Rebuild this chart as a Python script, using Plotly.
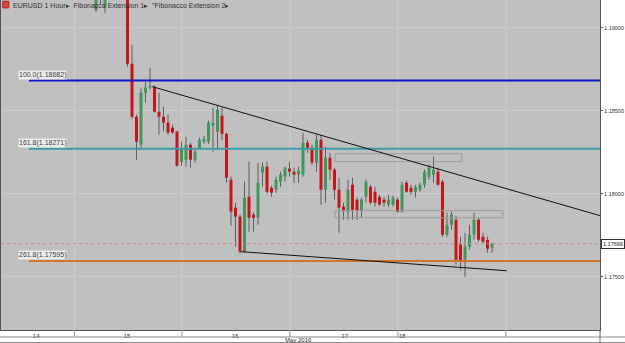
import plotly.graph_objects as go

# ---------------- data ----------------
bar_index = list(range(-7, 82))
open_ = [1.19108, 1.19259, 1.19121, 1.19241, 1.19349, 1.19380, 1.19440,
         1.19349, 1.18783, 1.18464, 1.18295, 1.18608, 1.18639, 1.18645, 1.18494, 1.18464, 1.18428,
         1.18398, 1.18374, 1.18193, 1.18205, 1.18295, 1.18205, 1.18277, 1.18313, 1.18313, 1.18410,
         1.18374, 1.18470, 1.18361, 1.18084, 1.17916, 1.17862, 1.17651, 1.17982, 1.17874, 1.17855,
         1.18127, 1.18163, 1.18036, 1.18024, 1.18072, 1.18103, 1.18151, 1.18133, 1.18115, 1.18115,
         1.18307, 1.18277, 1.18187, 1.18325, 1.18024, 1.18217, 1.18145, 1.18024, 1.17922, 1.17892,
         1.18054, 1.17964, 1.17898, 1.17982, 1.18042, 1.18012, 1.17982, 1.17964, 1.17934, 1.17934,
         1.17964, 1.17892, 1.18066, 1.18036, 1.18012, 1.18024, 1.18054, 1.18103, 1.18115, 1.18133,
         1.18072, 1.17753, 1.17813, 1.17843, 1.17693, 1.17603, 1.17681, 1.17753, 1.17843, 1.17741,
         1.17723, 1.17675]
high = [1.19289, 1.19319, 1.19349, 1.19410, 1.19470, 1.19500, 1.19530,
        1.19410, 1.18898, 1.18476, 1.18639, 1.18675, 1.18759, 1.18651, 1.18608, 1.18524, 1.18476,
        1.18416, 1.18380, 1.18313, 1.18343, 1.18307, 1.18265, 1.18337, 1.18349, 1.18440, 1.18518,
        1.18536, 1.18518, 1.18368, 1.18103, 1.17946, 1.17874, 1.18072, 1.18193, 1.17886, 1.18187,
        1.18187, 1.18193, 1.18048, 1.18103, 1.18133, 1.18163, 1.18193, 1.18157, 1.18163, 1.18368,
        1.18325, 1.18295, 1.18355, 1.18355, 1.18283, 1.18247, 1.18157, 1.18096, 1.17946, 1.18084,
        1.18096, 1.17976, 1.17976, 1.18084, 1.18054, 1.18042, 1.17994, 1.17982, 1.17994, 1.17988,
        1.17976, 1.18072, 1.18078, 1.18054, 1.18054, 1.18066, 1.18145, 1.18175, 1.18223, 1.18157,
        1.18084, 1.17886, 1.17892, 1.17868, 1.17741, 1.17765, 1.17813, 1.17886, 1.17855, 1.17765,
        1.17741, 1.17705]
low = [1.19096, 1.19139, 1.19090, 1.19199, 1.19289, 1.19319, 1.19319,
       1.18765, 1.18452, 1.18205, 1.18277, 1.18548, 1.18627, 1.18488, 1.18355, 1.18374, 1.18355,
       1.18361, 1.18163, 1.18169, 1.18163, 1.18157, 1.18187, 1.18265, 1.18301, 1.18301, 1.18253,
       1.18265, 1.18325, 1.18066, 1.17807, 1.17681, 1.17639, 1.17645, 1.17771, 1.17771, 1.17813,
       1.18042, 1.18000, 1.17982, 1.18006, 1.18042, 1.18072, 1.18103, 1.18066, 1.18066, 1.18103,
       1.18247, 1.18175, 1.18133, 1.17934, 1.17946, 1.18084, 1.17964, 1.17765, 1.17843, 1.17843,
       1.17843, 1.17843, 1.17855, 1.17946, 1.17934, 1.17922, 1.17928, 1.17922, 1.17922, 1.17922,
       1.17886, 1.17886, 1.18006, 1.17994, 1.17976, 1.18012, 1.18036, 1.18084, 1.18066, 1.18048,
       1.17741, 1.17741, 1.17783, 1.17572, 1.17542, 1.17500, 1.17663, 1.17723, 1.17711, 1.17705,
       1.17645, 1.17645]
close = [1.19229, 1.19199, 1.19241, 1.19349, 1.19380, 1.19440, 1.19349,
         1.18783, 1.18464, 1.18313, 1.18608, 1.18639, 1.18651, 1.18494, 1.18464, 1.18428, 1.18368,
         1.18368, 1.18169, 1.18265, 1.18295, 1.18205, 1.18253, 1.18325, 1.18331, 1.18428, 1.18428,
         1.18506, 1.18361, 1.18096, 1.17892, 1.17862, 1.17651, 1.17976, 1.17855, 1.17855, 1.18066,
         1.18163, 1.18012, 1.18006, 1.18084, 1.18115, 1.18157, 1.18133, 1.18115, 1.18139, 1.18307,
         1.18277, 1.18187, 1.18325, 1.18024, 1.18217, 1.18145, 1.18024, 1.17916, 1.17898, 1.18024,
         1.17904, 1.17898, 1.17964, 1.18072, 1.17946, 1.17946, 1.17934, 1.17946, 1.17964, 1.17976,
         1.17892, 1.18054, 1.18012, 1.18012, 1.18042, 1.18054, 1.18133, 1.18157, 1.18145, 1.18054,
         1.17753, 1.17813, 1.17874, 1.17603, 1.17590, 1.17681, 1.17753, 1.17843, 1.17723, 1.17711,
         1.17669, 1.17699]

price_ticks = [1.17500, 1.18000, 1.18500, 1.19000]
day_labels = ["14", "15", "16", "17", "18"]
day_label_pos = [-20.3, -0.1, 23.9, 48.3, 61.0]
day_bounds = [-11.8, 12.1, 36.1, 60.1, 84.1]
month_label = "May 2016"

fib_names = ["100.0(1.18682)", "161.8(1.18271)", "261.8(1.17595)"]
fib_levels = [1.18682, 1.18271, 1.17595]
fib_colors = ["#0a14c8", "#3c9ca4", "#d2752a"]
fib_start = -21.9

current_price = 1.17699

upper_trend_x = [5.5, 105.0]
upper_trend_y = [1.18645, 1.17868]
lower_trend_x = [25.2, 84.3]
lower_trend_y = [1.17651, 1.17536]

box_x0 = [46.1, 46.1]
box_x1 = [74.3, 83.4]
box_y0 = [1.18193, 1.17855]
box_y1 = [1.18241, 1.17898]

title_text = 'EURUSD 1 Hour\u25B8  Fibonacco Extension 1\u25B8  "Fibonacco Extension 2\u25B8'

# ---------------- figure ----------------
X0, X1 = -28.11, 105.0
Y0, Y1 = 1.17179, 1.19167
MIN_BODY = 0.00007

fig = go.Figure()

# wicks
wx, wy = [], []
for i, h, l in zip(bar_index, high, low):
    wx += [i, i, None]
    wy += [l, h, None]
fig.add_trace(go.Scatter(x=wx, y=wy, mode="lines", line=dict(color="#5e5e5e", width=1),
                         hoverinfo="skip", showlegend=False))

# bodies
for up, col in [(False, "#c4141c"), (True, "#43965a")]:
    bx, by = [], []
    for i, o, c in zip(bar_index, open_, close):
        if (c >= o) != up:
            continue
        lo_, hi_ = min(o, c), max(o, c)
        if hi_ - lo_ < MIN_BODY:
            mid = (hi_ + lo_) / 2
            lo_, hi_ = mid - MIN_BODY / 2, mid + MIN_BODY / 2
        bx += [i, i, None]
        by += [lo_, hi_, None]
    fig.add_trace(go.Scatter(x=bx, y=by, mode="lines", line=dict(color=col, width=3),
                             hoverinfo="skip", showlegend=False))

shapes = []
for b in day_bounds:
    shapes.append(dict(type="line", xref="x", yref="paper", x0=b, x1=b, y0=0, y1=1,
                       line=dict(color="#cdcdcd", width=1), layer="below"))
    shapes.append(dict(type="line", xref="x", yref="paper", x0=b, x1=b, y0=0, y1=-0.0212,
                       line=dict(color="#9a9a9a", width=1)))
shapes.append(dict(type="line", xref="paper", yref="paper", x0=-0.01, x1=1.05, y0=-0.0212, y1=-0.0212,
                   line=dict(color="#8a8a8a", width=1)))
shapes.append(dict(type="line", xref="paper", yref="paper", x0=-0.01, x1=1.05, y0=-0.038, y1=-0.038,
                   line=dict(color="#8a8a8a", width=1)))
shapes.append(dict(type="line", xref="paper", yref="paper", x0=1, x1=1, y0=0, y1=-0.04,
                   line=dict(color="#6a6a6a", width=1)))

shapes.append(dict(type="line", xref="paper", yref="y", x0=0, x1=1, y0=current_price, y1=current_price,
                   line=dict(color="#c98a8a", width=1, dash="dot")))
for lev, col in zip(fib_levels, fib_colors):
    shapes.append(dict(type="line", xref="x", yref="y", x0=fib_start, x1=X1, y0=lev, y1=lev,
                       line=dict(color=col, width=2)))
for a, b, c, d in zip(box_x0, box_x1, box_y0, box_y1):
    shapes.append(dict(type="rect", xref="x", yref="y", x0=a, x1=b, y0=c, y1=d,
                       line=dict(color="#9c9c9c", width=1), fillcolor="rgba(0,0,0,0)"))
shapes.append(dict(type="line", xref="x", yref="y", x0=upper_trend_x[0], x1=upper_trend_x[1],
                   y0=upper_trend_y[0], y1=upper_trend_y[1], line=dict(color="#101010", width=1)))
shapes.append(dict(type="line", xref="x", yref="y", x0=lower_trend_x[0], x1=lower_trend_x[1],
                   y0=lower_trend_y[0], y1=lower_trend_y[1], line=dict(color="#101010", width=1)))
shapes.append(dict(type="rect", xref="paper", yref="paper", x0=0.003, x1=0.013, y0=0.976, y1=0.996,
                   line=dict(color="#b02020", width=1), fillcolor="#e04040"))

annotations = []
for name, lev in zip(fib_names, fib_levels):
    annotations.append(dict(x=fib_start - 2.4, y=lev, xref="x", yref="y", text=name, showarrow=False,
                            xanchor="left", yanchor="bottom", yshift=1,
                            font=dict(family="Liberation Sans", size=7, color="#404040"),
                            bgcolor="#ececec", borderpad=0))
annotations.append(dict(x=1.0025, y=current_price, xref="paper", yref="y", text="1.17699",
                        showarrow=False, xanchor="left", yanchor="middle",
                        font=dict(family="Liberation Sans", size=5.5, color="#202020"),
                        bgcolor="#ffffff", bordercolor="#303030", borderwidth=1, borderpad=1))
annotations.append(dict(x=0.497, y=-0.0305, xref="paper", yref="paper", text=month_label,
                        showarrow=False, xanchor="center", yanchor="middle",
                        font=dict(family="Liberation Sans", size=6, color="#303030")))
annotations.append(dict(x=0.017, y=0.999, xref="paper", yref="paper", text=title_text,
                        showarrow=False, xanchor="left", yanchor="top",
                        font=dict(family="Liberation Sans", size=7, color="#303030")))

fig.update_layout(
    width=625, height=343,
    margin=dict(l=1, r=25, t=0, b=13),
    paper_bgcolor="#ffffff", plot_bgcolor="#c0c0c0",
    shapes=shapes, annotations=annotations,
    showlegend=False,
    xaxis=dict(range=[X0, X1], tickmode="array", tickvals=day_label_pos, ticktext=day_labels,
               showgrid=False, zeroline=False, ticks="", ticklen=0,
               tickfont=dict(family="Liberation Sans", size=6, color="#303030"),
               showline=True, linecolor="#555555", mirror=True, fixedrange=True),
    yaxis=dict(range=[Y0, Y1], side="right", tickmode="array", tickvals=price_ticks,
               tickformat=".5f", ticks="outside", ticklen=2, tickcolor="#555555",
               tickfont=dict(family="Liberation Sans", size=5.5, color="#303030"),
               showgrid=True, gridcolor="#cbcbcb", gridwidth=1, zeroline=False,
               showline=True, linecolor="#555555", mirror=True, fixedrange=True),
)

fig.write_html("out.html")
